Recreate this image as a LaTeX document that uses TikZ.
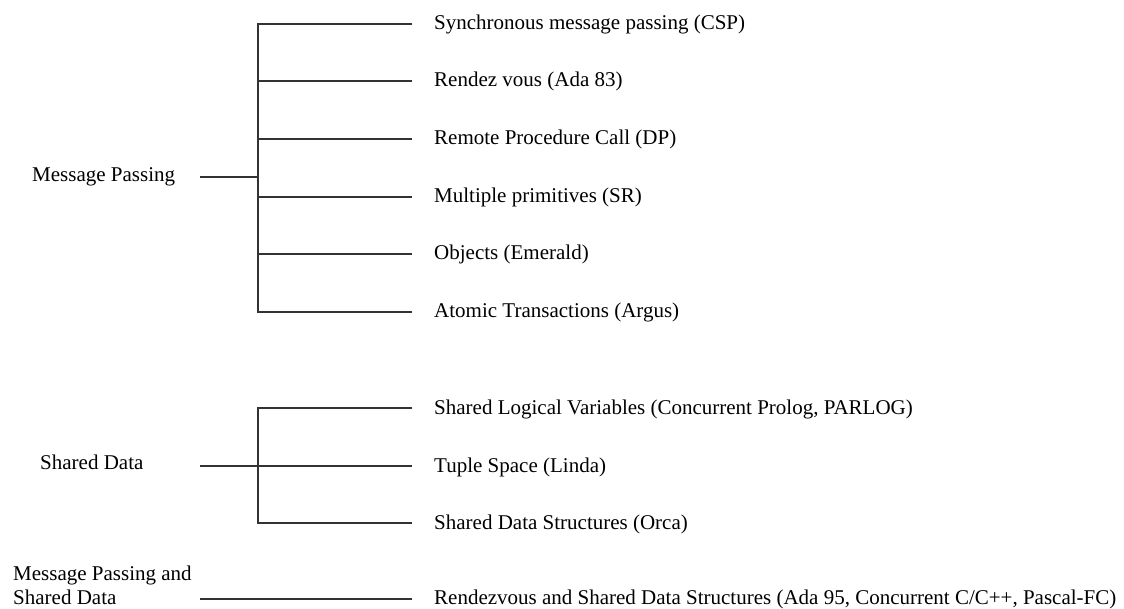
\documentclass[tikz,border=0pt]{standalone}
\usepackage{fontspec}
\setmainfont{Liberation Serif}
\tikzset{
    label/.style={anchor=base west, inner sep=0pt, font=\fontsize{21}{24}\selectfont},
    branch/.style={line width=1.3pt, draw=black!80}
}

\begin{document}
\begin{tikzpicture}[x=1pt,y=-1pt]
    \useasboundingbox (0,0) rectangle (1124,609);

    %message passing
    \node[label] (mp) at (32,182) {Message Passing};
    \coordinate (mpin) at (200,177);
    \coordinate (mptop) at (258,24);
    \coordinate (mpbot) at (258,312);
    \coordinate (cspend) at (412,24);
    \coordinate (adaend) at (412,81);
    \coordinate (rpcend) at (412,139);
    \coordinate (srend) at (412,197);
    \coordinate (emeraldend) at (412,254);
    \coordinate (argusend) at (412,312);
    \node[label] (csp) at (434,30) {Synchronous message passing (CSP)};
    \node[label] (ada) at (434,87) {Rendez vous (Ada 83)};
    \node[label] (rpc) at (434,145) {Remote Procedure Call (DP)};
    \node[label] (sr) at (434,203) {Multiple primitives (SR)};
    \node[label] (emerald) at (434,260) {Objects (Emerald)};
    \node[label] (argus) at (434,318) {Atomic Transactions (Argus)};
    \draw[branch] (mpin) -- (mptop |- mpin);
    \draw[branch] (cspend) -- (mptop) -- (mpbot) -- (argusend);
    \draw[branch] (mptop |- adaend) -- (adaend);
    \draw[branch] (mptop |- rpcend) -- (rpcend);
    \draw[branch] (mptop |- srend) -- (srend);
    \draw[branch] (mptop |- emeraldend) -- (emeraldend);

    %shared data
    \node[label] (sd) at (40,469) {Shared Data};
    \coordinate (sdin) at (200,466);
    \coordinate (sdtop) at (258,408);
    \coordinate (sdbot) at (258,523);
    \coordinate (prologend) at (412,408);
    \coordinate (lindaend) at (412,466);
    \coordinate (orcaend) at (412,523);
    \node[label] (prolog) at (434,414) {Shared Logical Variables (Concurrent Prolog, PARLOG)};
    \node[label] (linda) at (434,472) {Tuple Space (Linda)};
    \node[label] (orca) at (434,529) {Shared Data Structures (Orca)};
    \draw[branch] (sdin) -- (lindaend);
    \draw[branch] (prologend) -- (sdtop) -- (sdbot) -- (orcaend);

    %both
    \node[label, align=left] (mpsd) at (13,604) {Message Passing and\\Shared Data};
    \coordinate (mpsdin) at (200,599);
    \coordinate (ada95end) at (412,599);
    \node[label] (ada95) at (434,604) {Rendezvous and Shared Data Structures (Ada 95, Concurrent C/C++, Pascal-FC)};
    \draw[branch] (mpsdin) -- (ada95end);

\end{tikzpicture}
\end{document}
